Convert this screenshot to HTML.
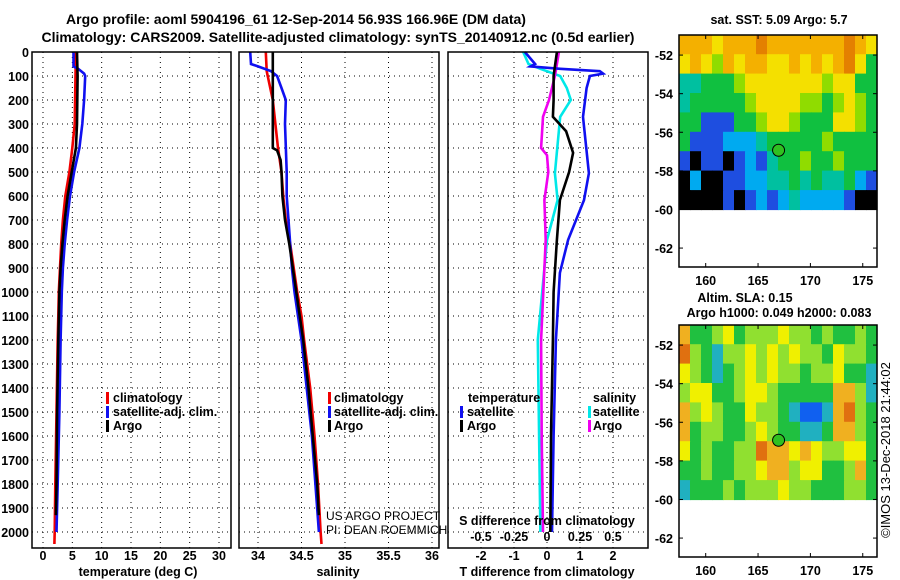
<!DOCTYPE html>
<html><head><meta charset="utf-8">
<style>
html,body{margin:0;padding:0;background:#fff;}
svg{display:block;font-family:"Liberation Sans",sans-serif;}
.b{font-weight:bold;font-size:12.5px;fill:#000;}
.n{font-weight:normal;font-size:12px;fill:#000;}
</style></head>
<body>
<svg id="c" width="900" height="580" viewBox="0 0 900 580">
<text class="b" x="296" y="24" text-anchor="middle" style="font-size:14px">Argo profile: aoml 5904196_61 12-Sep-2014 56.93S 166.96E (DM data)</text>
<text class="b" x="338" y="42" text-anchor="middle" style="font-size:14px">Climatology: CARS2009. Satellite-adjusted climatology: synTS_20140912.nc (0.5d earlier)</text>
</svg>
<script>
// ---- data ----
const depthTicks=[0,100,200,300,400,500,600,700,800,900,1000,1100,1200,1300,1400,1500,1600,1700,1800,1900,2000];
const tempTicks=[0,5,10,15,20,25,30];
const salTicks=[34,34.5,35,35.5,36];
const salTickLabels=["34","34.5","35","35.5","36"];
const tdiffTicks=[-2,-1,0,1,2];
const sdiffTicks=[-0.5,-0.25,0,0.25,0.5];
const sdiffTickLabels=["-0.5","-0.25","0","0.25","0.5"];

const tClimDepth=[0,300,400,500,600,700,800,900,1000,1100,1200,1500,1800,2000,2050];
const tClim=[5.6,5.4,5.0,4.5,3.8,3.4,3.1,2.9,2.7,2.6,2.5,2.3,2.1,2.0,1.95];
const tSatDepth=[0,60,70,90,100,200,300,400,500,600,700,800,900,1000,1100,1200,1500,1800,2000];
const tSat=[5.2,5.2,6.0,7.0,7.2,7.0,6.7,6.2,5.3,4.6,4.1,3.7,3.4,3.2,3.1,3.0,2.8,2.5,2.3];
const tArgoDepth=[0,100,300,400,500,600,700,800,900,1000,1200,1500,1800,1930];
const tArgo=[5.8,5.9,5.8,5.6,4.9,4.2,3.7,3.3,3.0,2.8,2.6,2.4,2.3,2.2];

const sClimDepth=[0,80,200,300,400,500,600,700,800,900,1000,1100,1200,1400,1600,1800,2000,2050];
const sClim=[34.09,34.1,34.17,34.2,34.23,34.27,34.29,34.32,34.37,34.41,34.45,34.5,34.53,34.6,34.65,34.69,34.72,34.73];
const sSatDepth=[0,50,60,80,100,150,200,300,500,600,700,800,900,1000,1100,1200,1400,1600,1800,2000];
const sSat=[33.91,33.92,34.0,34.15,34.22,34.27,34.32,34.31,34.33,34.33,34.35,34.37,34.39,34.42,34.46,34.5,34.56,34.62,34.66,34.7];
const sArgoDepth=[0,400,410,450,500,600,700,800,900,1000,1200,1400,1600,1800,1930];
const sArgo=[34.17,34.17,34.22,34.26,34.27,34.28,34.31,34.36,34.4,34.44,34.52,34.58,34.63,34.68,34.7];

const dTSatDepth=[0,50,60,70,80,90,100,150,270,505,617,783,920,1200,1600,2000];
const dTSat=[-0.67,-0.36,-0.5,0.4,1.6,1.7,1.3,1.2,1.09,1.27,1.12,0.64,0.39,0.27,0.2,0.15];
const dTArgoDepth=[0,100,200,270,330,420,500,617,783,1000,1200,1600,2000];
const dTArgo=[0.3,0.2,0.2,0.18,0.58,0.79,0.67,0.39,0.3,0.2,0.18,0.12,0.1];
const dSSatDepth=[0,50,70,100,150,200,270,505,617,783,1200,1600,2000];
const dSSat=[-0.18,-0.14,-0.05,0.1,0.15,0.18,0.1,0.06,0.08,0,-0.07,-0.06,-0.05];
const dSArgoDepth=[0,100,200,270,400,430,500,617,783,1200,1600,2000];
const dSArgo=[0.09,0.06,0.015,-0.03,-0.045,0,0.01,-0.02,-0.01,-0.045,-0.04,-0.03];

const mapLonTicks=[160,165,170,175];
const mapLatTicks=[-52,-54,-56,-58,-60,-62];
const sstGrid=[
[7,7,7,6,7,7,7,8,7,7,7,7,7,7,7,8,7,6],
[6,7,6,5,7,6,7,7,6,6,7,6,7,6,7,8,6,4],
[3,3,4,4,4,5,6,6,6,6,6,6,6,5,6,6,4,4],
[3,4,4,4,4,4,5,6,6,6,6,5,5,4,5,6,5,4],
[4,4,1,1,1,4,4,5,6,6,5,4,4,4,6,6,5,4],
[4,1,1,1,2,2,2,3,4,4,4,4,4,5,4,4,4,4],
[1,0,1,1,0,1,2,1,3,4,4,5,4,4,5,4,4,4],
[0,2,0,0,1,1,2,2,3,3,4,3,4,3,3,4,2,1],
[0,0,0,0,1,0,1,2,1,2,3,2,2,2,2,1,0,0]];
const slaGrid=[
[6,3,3,4,5,3,4,4,4,5,4,4,3,4,3,3,4,3],
[7,4,3,2,4,4,5,4,5,4,5,4,4,3,5,4,4,3],
[5,4,3,2,3,4,5,4,5,4,4,3,4,4,5,3,3,2],
[4,5,5,3,3,4,5,5,4,3,3,3,3,3,6,6,4,2],
[6,4,5,4,3,3,5,4,4,3,2,1,1,2,6,7,4,3],
[6,3,4,4,3,3,4,5,4,3,3,2,2,3,6,6,4,3],
[5,3,4,3,3,4,4,7,6,6,5,6,5,4,4,5,5,3],
[3,3,4,3,3,4,4,5,6,6,4,5,5,3,3,4,6,3],
[2,3,3,3,4,3,4,4,4,5,4,4,3,3,3,4,4,3]];
const floatLon=[166.96];
const floatLat=[-56.93];

const sstColors=["#000000","#1e4ee0","#00aaf0","#00c0a0","#10c040","#90dc00","#f4e000","#f4b000","#e48000"];
const slaColors=["#0030c0","#1060f0","#20b0c0","#20c040","#90e030","#f0f000","#f0b020","#e07010"];

// ---- helpers ----
const svg=document.getElementById('c');
const NS="http://www.w3.org/2000/svg";
function mk(tag,attrs,parent){const e=document.createElementNS(NS,tag);for(const k in attrs)e.setAttribute(k,attrs[k]);(parent||svg).appendChild(e);return e;}
function txt(x,y,s,anchor,cls,parent){const t=mk('text',{x:x,y:y,'text-anchor':anchor||'start','class':cls||'b'},parent);t.textContent=s;return t;}
const Y0=52,DEP=0.24;
const yD=d=>Y0+d*DEP;
const xT=v=>43+v*176/30;
const xS=v=>258+(v-34)*87;
const xDT=v=>547+v*33;
const xDS=v=>547+v*132;

function frame(x0,x1,name){
  const r=mk('rect',{x:x0,y:Y0,width:x1-x0,height:548-Y0,fill:'none',stroke:'#000','stroke-width':1.5});
  
  
}
function grid(x0,x1,xs){
  depthTicks.forEach(d=>{const l=mk('line',{x1:x0,x2:x1,y1:yD(d),y2:yD(d),stroke:'#000','stroke-width':1,'stroke-dasharray':'1,4'});
    });
  xs.forEach(x=>{const l=mk('line',{x1:x,x2:x,y1:Y0,y2:548,stroke:'#000','stroke-width':1,'stroke-dasharray':'1,4'});
    });
}
function line(ds,vs,fx,color,name){
  const pts=ds.map((d,i)=>fx(vs[i]).toFixed(1)+','+yD(d).toFixed(1)).join(' ');
  const p=mk('polyline',{points:pts,fill:'none',stroke:color,'stroke-width':2.6});
  
  
}
function legendBar(x,y,color){const r=mk('rect',{x:x,y:y-10,width:3,height:12,fill:color});}

// ---- panel 1 temperature ----
grid(32,231,tempTicks.map(xT));
line(tClimDepth,tClim,xT,'#f00000','temperature-climatology-line');
line(tSatDepth,tSat,xT,'#1010f0','temperature-satellite-line');
line(tArgoDepth,tArgo,xT,'#000','temperature-argo-line');
frame(32,231,'temperature-panel');
depthTicks.forEach(d=>{const t=txt(29,yD(d)+5,String(d),'end');});
tempTicks.forEach(v=>{const t=txt(xT(v),560,String(v),'middle');});
{const t=txt(138,576,'temperature (deg C)','middle');}
[['climatology','#f00000',402],['satellite-adj. clim.','#1010f0',416],['Argo','#000',430]].forEach(a=>{legendBar(106,a[2],a[1]);const t=txt(113,a[2],a[0]);});

// ---- panel 2 salinity ----
grid(239,439,salTicks.map(xS));
line(sClimDepth,sClim,xS,'#f00000','salinity-climatology-line');
line(sSatDepth,sSat,xS,'#1010f0','salinity-satellite-line');
line(sArgoDepth,sArgo,xS,'#000','salinity-argo-line');
frame(239,439,'salinity-panel');
salTicks.forEach((v,i)=>{const t=txt(xS(v),560,salTickLabels[i],'middle');});
{const t=txt(338,576,'salinity','middle');}
[['climatology','#f00000',402],['satellite-adj. clim.','#1010f0',416],['Argo','#000',430]].forEach(a=>{legendBar(328,a[2],a[1]);const t=txt(334,a[2],a[0]);});
{const t=txt(326,520,'US ARGO PROJECT','start','n');
 const u=txt(326,534,'PI: DEAN ROEMMICH','start','n');}

// ---- panel 3 differences ----
grid(448,648,tdiffTicks.map(xDT));
line(dSSatDepth,dSSat,xDS,'#00e8e8','salinity-diff-satellite-line');
line(dSArgoDepth,dSArgo,xDS,'#f000f0','salinity-diff-argo-line');
line(dTSatDepth,dTSat,xDT,'#1010f0','temperature-diff-satellite-line');
line(dTArgoDepth,dTArgo,xDT,'#000','temperature-diff-argo-line');
frame(448,648,'difference-panel');
tdiffTicks.forEach(v=>{const t=txt(xDT(v),560,String(v),'middle');});
sdiffTicks.forEach((v,i)=>{const t=txt(xDS(v),541,sdiffTickLabels[i],'middle');});
{const t=txt(547,525,'S difference from climatology','middle');
 const u=txt(547,576,'T difference from climatology','middle');}
{const t=txt(468,402,'temperature');
 const u=txt(593,402,'salinity');}
legendBar(460,416,'#1010f0');{const t=txt(467,416,'satellite');}
legendBar(460,430,'#000');{const t=txt(467,430,'Argo');}
legendBar(588,416,'#00e8e8');{const t=txt(593,416,'satellite');}
legendBar(588,430,'#f000f0');{const t=txt(593,430,'Argo');}

// ---- maps ----
const MX0=679,MX1=877,LON0=157.45,LONPX=10.47,LATTOP=-50.96,LATPX=19.3;
const xLon=v=>MX0+(v-LON0)*LONPX;
function drawMap(top,grid2,colors,name){
  const yLat=v=>top+(LATTOP-v)*LATPX;
  const g=mk('g',{});
  
  
  const nr=grid2.length,nc=grid2[0].length;
  const cw=(MX1-MX0)/nc, y0=yLat(-51)-1, ch=(yLat(-60)-y0)/nr;
  grid2.forEach((row,r)=>row.forEach((v,c)=>{
    const cell=mk('rect',{x:(MX0+c*cw).toFixed(1),y:(y0+r*ch).toFixed(1),width:(cw+0.6).toFixed(1),height:(ch+0.6).toFixed(1),fill:colors[v]},g);
    
    
  }));
  const fr=mk('rect',{x:MX0,y:top,width:MX1-MX0,height:232,fill:'none',stroke:'#000','stroke-width':1.5});
  
  mapLatTicks.forEach(v=>{mk('line',{x1:MX0,x2:MX0+4,y1:yLat(v),y2:yLat(v),stroke:'#000'});mk('line',{x1:MX1-4,x2:MX1,y1:yLat(v),y2:yLat(v),stroke:'#000'});
    const t=txt(673,yLat(v)+5,String(v),'end');});
  mapLonTicks.forEach(v=>{mk('line',{x1:xLon(v),x2:xLon(v),y1:top,y2:top+4,stroke:'#000'});mk('line',{x1:xLon(v),x2:xLon(v),y1:top+228,y2:top+232,stroke:'#000'});
    const t=txt(xLon(v),top+250,String(v),'middle');});
  floatLon.forEach((lo,i)=>{const c=mk('circle',{cx:xLon(lo),cy:yLat(floatLat[i]),r:6,fill:'#30c020',stroke:'#000','stroke-width':1});
    });
}
drawMap(35,sstGrid,sstColors,'sst-map');
drawMap(325,slaGrid,slaColors,'sla-map');
{const t=txt(779,24,'sat. SST: 5.09 Argo: 5.7','middle');
 const u=txt(745,302,'Altim. SLA: 0.15','middle');
 const w=txt(779,317,'Argo h1000: 0.049 h2000: 0.083','middle');
 const z=txt(0,0,'©IMOS 13-Dec-2018 21:44:02','middle','n');z.setAttribute('style','font-size:13px');z.setAttribute('transform','translate(890,450) rotate(-90)');
 }
</script>
</body></html>
